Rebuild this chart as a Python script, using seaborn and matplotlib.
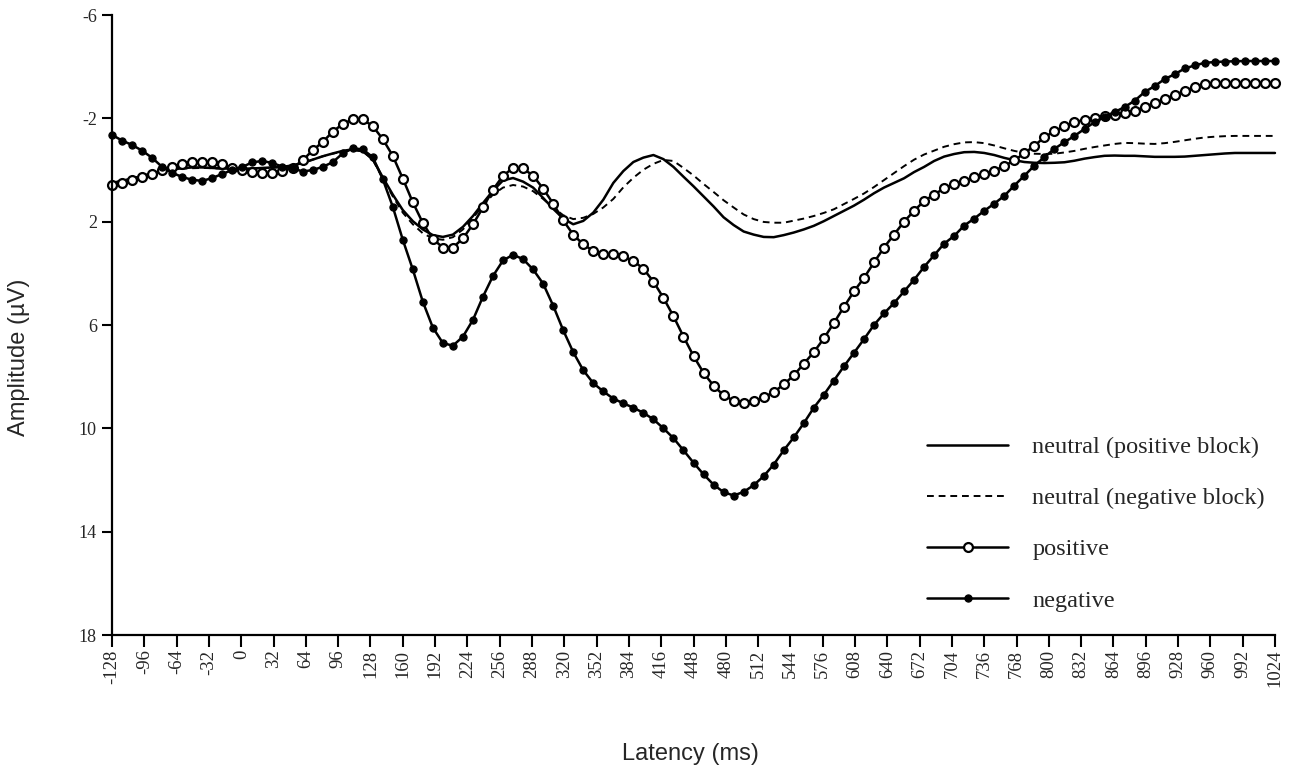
import numpy as np
import matplotlib
matplotlib.use('Agg')
import matplotlib.pyplot as plt
import seaborn as sns

# 1. Data: ERP amplitudes (uV), one sample about every 10 ms
latency = np.linspace(-128, 1024, 117)

neutral_pos = [
    0.50, 0.42, 0.33, 0.23, 0.13, 0.04, -0.02, -0.07, -0.10, -0.10,
    -0.08, -0.06, -0.05, -0.05, -0.06, -0.08, -0.10, -0.12, -0.18, -0.27,
    -0.40, -0.53, -0.64, -0.74, -0.80, -0.74, -0.42, 0.28, 0.95, 1.55,
    1.98, 2.30, 2.52, 2.59, 2.50, 2.20, 1.78, 1.28, 0.80, 0.40,
    0.31, 0.45, 0.68, 1.08, 1.50, 1.88, 2.10, 1.97, 1.65, 1.15,
    0.50, 0.04, -0.31, -0.48, -0.58, -0.42, -0.12, 0.26, 0.63, 1.02,
    1.41, 1.83, 2.13, 2.38, 2.50, 2.59, 2.60, 2.52, 2.42, 2.30,
    2.16, 1.98, 1.78, 1.58, 1.38, 1.15, 0.90, 0.68, 0.50, 0.32,
    0.08, -0.12, -0.35, -0.52, -0.62, -0.69, -0.70, -0.66, -0.58, -0.47,
    -0.38, -0.31, -0.28, -0.27, -0.28, -0.30, -0.36, -0.44, -0.50, -0.55,
    -0.56, -0.55, -0.55, -0.53, -0.51, -0.51, -0.51, -0.52, -0.55, -0.58,
    -0.61, -0.64, -0.66, -0.66, -0.66, -0.66, -0.66]

neutral_neg = [
    0.50, 0.42, 0.33, 0.23, 0.13, 0.05, -0.01, -0.05, -0.07, -0.08,
    -0.07, -0.05, -0.04, -0.04, -0.05, -0.07, -0.09, -0.12, -0.18, -0.27,
    -0.40, -0.53, -0.63, -0.72, -0.77, -0.72, -0.40, 0.32, 1.02, 1.65,
    2.10, 2.45, 2.65, 2.70, 2.60, 2.30, 1.85, 1.38, 0.95, 0.68,
    0.58, 0.64, 0.82, 1.12, 1.45, 1.75, 1.90, 1.85, 1.70, 1.45,
    1.12, 0.67, 0.30, -0.01, -0.24, -0.39, -0.35, -0.08, 0.21, 0.54,
    0.85, 1.17, 1.45, 1.72, 1.90, 2.01, 2.04, 2.04, 1.96, 1.88,
    1.78, 1.66, 1.52, 1.32, 1.12, 0.91, 0.66, 0.39, 0.12, -0.15,
    -0.40, -0.60, -0.75, -0.90, -1.00, -1.07, -1.08, -1.04, -0.95, -0.84,
    -0.74, -0.66, -0.63, -0.62, -0.63, -0.68, -0.74, -0.82, -0.89, -0.95,
    -1.01, -1.05, -1.04, -1.02, -1.01, -1.04, -1.09, -1.15, -1.21, -1.26,
    -1.29, -1.31, -1.32, -1.32, -1.32, -1.32, -1.32]

positive = [
    0.58, 0.49, 0.38, 0.27, 0.15, 0.00, -0.12, -0.24, -0.31, -0.32,
    -0.31, -0.24, -0.08, 0.00, 0.07, 0.11, 0.11, 0.03, -0.08, -0.37,
    -0.76, -1.08, -1.48, -1.78, -1.96, -1.96, -1.70, -1.20, -0.55, 0.33,
    1.25, 2.05, 2.67, 3.00, 3.00, 2.65, 2.10, 1.45, 0.76, 0.22,
    -0.08, -0.06, 0.22, 0.72, 1.30, 1.95, 2.50, 2.88, 3.13, 3.24,
    3.27, 3.34, 3.52, 3.82, 4.32, 4.95, 5.66, 6.45, 7.20, 7.85,
    8.35, 8.72, 8.93, 9.02, 8.96, 8.80, 8.60, 8.30, 7.95, 7.50,
    7.05, 6.52, 5.92, 5.30, 4.70, 4.18, 3.58, 3.00, 2.50, 2.00,
    1.58, 1.20, 0.95, 0.71, 0.56, 0.43, 0.28, 0.16, 0.03, -0.16,
    -0.37, -0.65, -0.94, -1.27, -1.50, -1.69, -1.84, -1.95, -2.03, -2.10,
    -2.13, -2.21, -2.29, -2.44, -2.60, -2.75, -2.91, -3.06, -3.21, -3.33,
    -3.37, -3.38, -3.38, -3.38, -3.38, -3.38, -3.38]

negative = [
    -1.36, -1.14, -0.97, -0.75, -0.47, -0.12, 0.11, 0.27, 0.38, 0.42,
    0.31, 0.15, 0.00, -0.12, -0.30, -0.35, -0.27, -0.13, -0.08, 0.06,
    0.00, -0.12, -0.30, -0.64, -0.84, -0.80, -0.50, 0.35, 1.42, 2.70,
    3.85, 5.10, 6.10, 6.70, 6.80, 6.45, 5.80, 4.90, 4.10, 3.50,
    3.28, 3.45, 3.85, 4.40, 5.25, 6.20, 7.05, 7.75, 8.25, 8.57,
    8.85, 9.03, 9.20, 9.40, 9.65, 10.00, 10.38, 10.85, 11.33, 11.78,
    12.18, 12.47, 12.60, 12.46, 12.20, 11.85, 11.40, 10.85, 10.35, 9.80,
    9.20, 8.70, 8.15, 7.60, 7.08, 6.55, 6.00, 5.55, 5.15, 4.70,
    4.25, 3.75, 3.30, 2.85, 2.55, 2.15, 1.88, 1.58, 1.30, 1.00,
    0.60, 0.22, -0.17, -0.50, -0.82, -1.08, -1.32, -1.59, -1.85, -2.07,
    -2.24, -2.44, -2.68, -3.02, -3.25, -3.52, -3.71, -3.93, -4.05, -4.15,
    -4.18, -4.20, -4.21, -4.22, -4.22, -4.22, -4.22]

x_ticks = list(range(-128, 1025, 32))
y_ticks = [-6, -2, 2, 6, 10, 14, 18]

# --- STYLE ---
sns.set_style('ticks')
plt.rcParams['font.family'] = ['Liberation Serif', 'DejaVu Serif']
plt.rcParams['axes.unicode_minus'] = False

fig, ax = plt.subplots(figsize=(12.94, 7.70), dpi=100)
fig.subplots_adjust(left=0.0866, right=0.9853, top=0.9805, bottom=0.1753)

# 2. The four waveforms
sns.lineplot(x=latency, y=neutral_pos, ax=ax, color='black', linewidth=1.8,
             errorbar=None, label='neutral (positive block)', clip_on=False)
sns.lineplot(x=latency, y=neutral_neg, ax=ax, color='black', linewidth=1.4,
             linestyle=(0, (3.5, 2.5)), errorbar=None,
             label='neutral (negative block)', clip_on=False)
sns.lineplot(x=latency, y=positive, ax=ax, color='black', linewidth=1.8,
             marker='o', markersize=6.4, markerfacecolor='white',
             markeredgecolor='black', markeredgewidth=1.6, errorbar=None,
             label='positive', clip_on=False)
sns.lineplot(x=latency, y=negative, ax=ax, color='black', linewidth=1.8,
             marker='o', markersize=5.2, markerfacecolor='black',
             markeredgecolor='black', markeredgewidth=0.8, errorbar=None,
             label='negative', clip_on=False)

# 3. Axes: negative up, as usual for ERPs
ax.set_xlim(-128, 1024)
ax.set_ylim(18, -6)
ax.set_xticks(x_ticks)
ax.set_yticks(y_ticks)
ax.tick_params(axis='x', labelrotation=90, labelsize=13.5, length=8.5,
               width=1.5, direction='out', color='black', pad=2)
ax.tick_params(axis='y', labelsize=13, length=7.5, width=1.5,
               direction='out', color='black')
sns.despine(ax=ax)
for side in ['left', 'bottom']:
    ax.spines[side].set_linewidth(1.6)
    ax.spines[side].set_color('black')

ax.set_ylabel('Amplitude (\u00b5V)', fontfamily='Liberation Sans', fontsize=17)
ax.yaxis.set_label_coords(-0.0705, 0.448)
ax.set_xlabel('Latency (ms)', fontfamily='Liberation Sans', fontsize=17)
ax.xaxis.set_label_coords(0.497, -0.174)

ax.legend(loc='upper left', bbox_to_anchor=(0.7008, 0.321), frameon=False,
          borderpad=0, borderaxespad=0, handlelength=3.33, handletextpad=1.0,
          labelspacing=1.2, fontsize=17.5, numpoints=1)

plt.savefig('out.png', dpi=100)
